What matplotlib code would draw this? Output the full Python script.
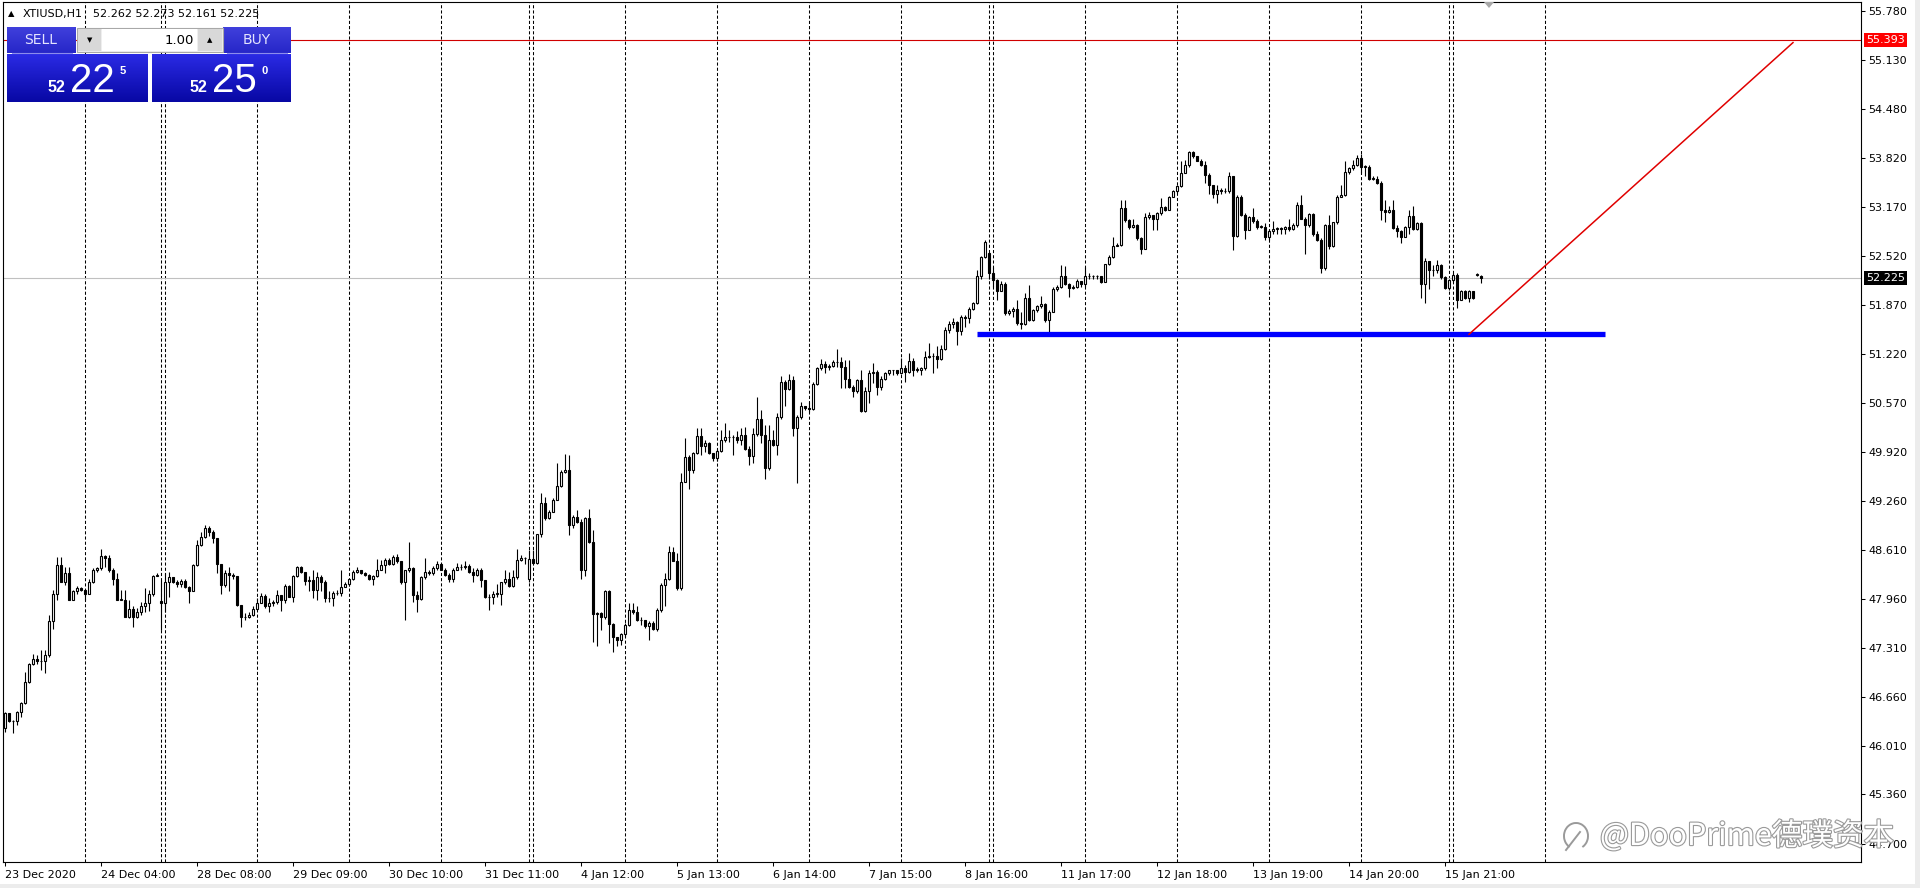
"""
MT4 style hourly candlestick chart of XTIUSD with the one-click trade panel.
"""

import numpy as np
import matplotlib
matplotlib.use("Agg")
import matplotlib.pyplot as plt
import matplotlib.transforms as mtransforms
from matplotlib.patches import Rectangle, Polygon, Arc
from matplotlib import patheffects as pe

# Hourly OHLC (bar 0 = 23 Dec 2020)
opens = [
    46.24, 46.44, 46.33, 46.33, 46.46, 46.58, 46.86, 47.09, 47.16, 47.13,
    47.13, 47.21, 47.67, 48.03, 48.41, 48.19, 48.31, 47.95, 48.06, 48.10,
    48.08, 48.03, 48.18, 48.35, 48.37, 48.53, 48.50, 48.35, 48.23, 47.95,
    47.95, 47.72, 47.83, 47.72, 47.78, 47.86, 47.91, 48.03, 48.27, 47.93,
    47.91, 48.19, 48.25, 48.19, 48.16, 48.20, 48.12, 48.07, 48.41, 48.68,
    48.79, 48.90, 48.85, 48.77, 48.43, 48.15, 48.30, 48.28, 48.26, 47.88,
    47.72, 47.72, 47.75, 47.83, 47.91, 48.00, 47.86, 47.91, 47.92, 48.01,
    47.94, 48.13, 47.99, 48.26, 48.38, 48.32, 48.20, 48.21, 48.08, 48.25,
    48.19, 47.97, 47.97, 48.04, 48.04, 48.12, 48.16, 48.22, 48.32, 48.35,
    48.31, 48.28, 48.22, 48.27, 48.35, 48.41, 48.48, 48.43, 48.52, 48.46,
    48.19, 48.34, 48.37, 48.01, 47.96, 48.25, 48.32, 48.30, 48.37, 48.43,
    48.35, 48.28, 48.23, 48.35, 48.39, 48.38, 48.40, 48.32, 48.28, 48.35,
    48.21, 47.98, 47.98, 48.03, 48.03, 48.18, 48.22, 48.13, 48.25, 48.48,
    48.51, 48.23, 48.49, 48.44, 48.82, 49.23, 49.03, 49.12, 49.28, 49.46,
    49.65, 49.68, 48.94, 49.05, 48.99, 48.35, 49.03, 48.72, 47.76, 47.77,
    47.72, 48.06, 47.63, 47.45, 47.41, 47.49, 47.61, 47.81, 47.78, 47.68,
    47.68, 47.60, 47.64, 47.56, 47.81, 48.15, 48.22, 48.58, 48.47, 48.10,
    49.52, 49.85, 49.67, 49.90, 50.13, 49.99, 50.03, 49.90, 49.83, 49.93,
    50.08, 50.11, 50.11, 50.12, 50.08, 50.14, 49.95, 49.86, 50.15, 50.35,
    50.14, 49.70, 50.07, 50.01, 50.38, 50.85, 50.75, 50.87, 50.24, 50.38,
    50.52, 50.50, 50.48, 50.82, 51.03, 51.09, 51.04, 51.06, 51.11, 51.11,
    51.04, 50.89, 50.78, 50.73, 50.87, 50.46, 50.72, 50.97, 50.98, 50.78,
    50.89, 50.96, 51.00, 51.00, 50.97, 51.03, 50.98, 51.13, 51.01, 51.01,
    51.03, 51.18, 51.19, 51.19, 51.15, 51.29, 51.54, 51.62, 51.64, 51.52,
    51.71, 51.70, 51.81, 51.89, 52.25, 52.51, 52.56, 52.30, 52.20, 52.05,
    52.15, 51.76, 51.79, 51.82, 51.63, 51.62, 51.96, 51.67, 51.80, 51.85,
    51.88, 51.67, 51.78, 52.08, 52.11, 52.25, 52.15, 52.09, 52.11, 52.19,
    52.15, 52.25, 52.25, 52.25, 52.26, 52.18, 52.41, 52.51, 52.66, 52.67,
    53.16, 53.00, 52.91, 52.93, 52.76, 52.62, 53.04, 53.07, 53.01, 53.09,
    53.17, 53.14, 53.30, 53.38, 53.45, 53.63, 53.73, 53.91, 53.85, 53.79,
    53.73, 53.60, 53.46, 53.35, 53.40, 53.39, 53.38, 53.58, 52.79, 53.31,
    53.07, 52.87, 53.04, 52.99, 52.91, 52.91, 52.78, 52.85, 52.88, 52.89,
    52.88, 52.91, 52.88, 52.94, 53.20, 53.02, 52.93, 53.08, 52.81, 52.74,
    52.36, 52.93, 52.65, 52.97, 53.31, 53.33, 53.64, 53.69, 53.73, 53.82,
    53.71, 53.71, 53.55, 53.55, 53.49, 53.13, 53.11, 53.14, 52.89, 52.85,
    52.78, 52.91, 53.05, 52.88, 52.96, 52.15, 52.45, 52.33, 52.33, 52.40,
    52.24, 52.10, 52.20, 52.27, 51.94, 52.05, 51.96, 52.06, 52.27, 52.262,
]
highs = [
    46.46, 46.44, 46.35, 46.47, 46.59, 46.99, 47.11, 47.23, 47.21, 47.28,
    47.28, 47.75, 48.08, 48.52, 48.52, 48.39, 48.39, 48.08, 48.13, 48.12,
    48.09, 48.23, 48.37, 48.38, 48.63, 48.54, 48.54, 48.37, 48.30, 48.08,
    48.08, 47.95, 47.86, 47.84, 47.92, 48.10, 48.08, 48.28, 48.30, 48.21,
    48.30, 48.32, 48.25, 48.21, 48.22, 48.22, 48.13, 48.43, 48.74, 48.85,
    48.94, 48.93, 48.88, 48.77, 48.43, 48.35, 48.39, 48.30, 48.27, 47.88,
    47.77, 47.78, 47.86, 47.97, 48.04, 48.03, 47.97, 47.95, 48.08, 48.01,
    48.16, 48.15, 48.28, 48.40, 48.40, 48.32, 48.26, 48.35, 48.32, 48.28,
    48.21, 48.06, 48.07, 48.08, 48.35, 48.18, 48.23, 48.35, 48.38, 48.35,
    48.32, 48.29, 48.28, 48.49, 48.48, 48.50, 48.51, 48.54, 48.56, 48.47,
    48.35, 48.72, 48.39, 48.06, 48.26, 48.51, 48.35, 48.40, 48.46, 48.44,
    48.37, 48.30, 48.37, 48.44, 48.43, 48.46, 48.42, 48.37, 48.37, 48.37,
    48.21, 48.03, 48.06, 48.16, 48.19, 48.35, 48.32, 48.34, 48.63, 48.54,
    48.52, 48.61, 48.61, 48.83, 49.37, 49.31, 49.14, 49.30, 49.77, 49.68,
    49.89, 49.87, 49.08, 49.14, 49.02, 49.05, 49.15, 48.88, 47.79, 47.79,
    48.08, 48.08, 47.64, 47.46, 47.51, 47.64, 47.90, 47.90, 47.86, 47.72,
    47.68, 47.66, 47.66, 47.84, 48.17, 48.30, 48.66, 48.65, 48.57, 49.63,
    50.10, 49.87, 49.92, 50.23, 50.23, 50.07, 50.05, 49.87, 49.96, 50.21,
    50.30, 50.21, 50.14, 50.19, 50.23, 50.25, 49.99, 50.23, 50.65, 50.47,
    50.27, 50.27, 50.21, 50.43, 50.92, 50.87, 50.95, 50.92, 50.41, 50.58,
    50.53, 50.58, 50.84, 51.05, 51.15, 51.13, 51.09, 51.14, 51.29, 51.18,
    51.14, 51.14, 50.81, 50.89, 51.00, 50.78, 51.00, 51.10, 51.00, 50.92,
    50.98, 51.01, 51.01, 51.00, 51.16, 51.07, 51.23, 51.16, 51.04, 51.05,
    51.26, 51.36, 51.23, 51.32, 51.34, 51.58, 51.66, 51.70, 51.66, 51.74,
    51.74, 51.84, 51.91, 52.34, 52.52, 52.73, 52.58, 52.38, 52.21, 52.19,
    52.17, 51.81, 51.84, 51.94, 51.78, 52.03, 52.14, 51.82, 51.87, 51.99,
    51.89, 51.80, 52.11, 52.14, 52.40, 52.39, 52.16, 52.13, 52.21, 52.18,
    52.38, 52.29, 52.27, 52.27, 52.26, 52.42, 52.53, 52.77, 52.69, 53.26,
    53.26, 53.02, 53.02, 52.95, 52.78, 53.09, 53.11, 53.07, 53.11, 53.29,
    53.19, 53.32, 53.40, 53.47, 53.79, 53.80, 53.92, 53.92, 53.84, 53.81,
    53.78, 53.62, 53.47, 53.47, 53.43, 53.42, 53.64, 53.58, 53.33, 53.33,
    53.10, 53.05, 53.16, 53.01, 52.93, 52.96, 52.88, 52.99, 52.91, 52.91,
    52.92, 53.01, 52.96, 53.24, 53.33, 53.04, 53.10, 53.09, 52.86, 52.76,
    52.95, 53.07, 52.98, 53.33, 53.47, 53.78, 53.71, 53.80, 53.86, 53.88,
    53.73, 53.73, 53.58, 53.58, 53.52, 53.27, 53.19, 53.27, 52.93, 52.87,
    52.92, 53.13, 53.18, 52.98, 52.97, 52.49, 52.46, 52.40, 52.47, 52.42,
    52.25, 52.22, 52.29, 52.29, 52.07, 52.07, 52.07, 52.06, 52.30, 52.273,
]
lows = [
    46.19, 46.32, 46.18, 46.28, 46.39, 46.56, 46.84, 47.08, 47.10, 47.02,
    46.97, 47.19, 47.56, 47.94, 48.18, 48.15, 47.94, 47.94, 48.03, 48.07,
    47.95, 48.03, 48.17, 48.32, 48.35, 48.39, 48.32, 48.15, 47.94, 47.94,
    47.72, 47.70, 47.59, 47.70, 47.75, 47.79, 47.80, 48.00, 48.26, 47.55,
    47.79, 47.99, 48.17, 48.12, 48.12, 48.10, 47.90, 48.06, 48.40, 48.66,
    48.77, 48.80, 48.70, 48.30, 48.03, 48.12, 48.06, 48.22, 47.87, 47.59,
    47.68, 47.70, 47.73, 47.82, 47.90, 47.84, 47.79, 47.86, 47.89, 47.80,
    47.90, 47.98, 47.92, 48.25, 48.31, 48.15, 48.06, 47.97, 47.95, 48.06,
    47.92, 47.92, 47.86, 48.01, 48.00, 48.12, 48.13, 48.21, 48.30, 48.29,
    48.26, 48.21, 48.15, 48.25, 48.34, 48.30, 48.41, 48.41, 48.44, 48.16,
    47.68, 48.32, 47.92, 47.78, 47.95, 48.23, 48.28, 48.28, 48.35, 48.34,
    48.27, 48.19, 48.19, 48.34, 48.35, 48.36, 48.31, 48.19, 48.26, 48.12,
    47.97, 47.81, 47.89, 47.99, 47.88, 48.16, 48.12, 48.12, 48.23, 48.47,
    48.42, 48.18, 48.42, 48.42, 48.79, 49.01, 49.02, 49.11, 49.27, 49.45,
    49.63, 48.81, 48.90, 48.97, 48.23, 48.26, 48.70, 47.39, 47.33, 47.55,
    47.69, 47.37, 47.25, 47.33, 47.35, 47.46, 47.60, 47.76, 47.66, 47.62,
    47.58, 47.42, 47.55, 47.54, 47.79, 47.86, 48.21, 48.46, 48.08, 48.08,
    49.52, 49.42, 49.64, 49.89, 49.87, 49.91, 49.89, 49.80, 49.79, 49.92,
    50.05, 50.05, 49.87, 50.03, 50.01, 49.94, 49.74, 49.77, 50.13, 50.03,
    49.56, 49.67, 49.99, 49.87, 50.36, 50.52, 50.74, 50.13, 49.50, 50.36,
    50.47, 50.45, 50.47, 50.81, 51.01, 50.97, 51.01, 51.04, 51.05, 50.77,
    50.76, 50.76, 50.65, 50.70, 50.45, 50.45, 50.57, 50.83, 50.67, 50.74,
    50.87, 50.94, 50.94, 50.94, 50.95, 50.84, 50.96, 50.92, 50.98, 50.94,
    51.01, 51.16, 50.96, 51.03, 51.14, 51.27, 51.50, 51.56, 51.34, 51.47,
    51.58, 51.63, 51.80, 51.88, 52.22, 52.50, 52.22, 52.11, 51.94, 52.08,
    51.74, 51.74, 51.71, 51.61, 51.55, 51.60, 51.66, 51.66, 51.78, 51.83,
    51.65, 51.51, 51.77, 52.06, 52.10, 52.14, 51.98, 52.08, 52.09, 52.11,
    52.11, 52.21, 52.21, 52.21, 52.16, 52.17, 52.40, 52.50, 52.65, 52.65,
    52.98, 52.88, 52.90, 52.73, 52.55, 52.61, 53.02, 52.87, 52.87, 53.07,
    53.12, 53.13, 53.32, 53.36, 53.44, 53.62, 53.71, 53.83, 53.78, 53.72,
    53.49, 53.35, 53.29, 53.22, 53.35, 53.36, 53.36, 52.60, 52.78, 53.05,
    52.75, 52.87, 52.96, 52.88, 52.89, 52.73, 52.73, 52.82, 52.81, 52.81,
    52.82, 52.86, 52.87, 52.91, 53.01, 52.55, 52.91, 52.79, 52.72, 52.30,
    52.34, 52.62, 52.64, 52.95, 53.30, 53.32, 53.61, 53.67, 53.72, 53.62,
    53.58, 53.53, 53.53, 53.48, 53.00, 52.98, 53.09, 52.88, 52.77, 52.70,
    52.77, 52.82, 52.87, 52.87, 51.96, 51.89, 52.08, 52.25, 52.30, 52.22,
    52.08, 52.07, 52.18, 51.83, 51.94, 51.95, 51.91, 51.95, 52.26, 52.161,
]
closes = [
    46.44, 46.33, 46.33, 46.46, 46.58, 46.86, 47.09, 47.16, 47.13, 47.13,
    47.21, 47.67, 48.03, 48.41, 48.19, 48.31, 47.95, 48.06, 48.10, 48.08,
    48.03, 48.18, 48.35, 48.37, 48.53, 48.50, 48.35, 48.23, 47.95, 47.95,
    47.72, 47.83, 47.72, 47.78, 47.86, 47.91, 48.03, 48.27, 48.28, 47.91,
    48.19, 48.25, 48.19, 48.16, 48.20, 48.12, 48.07, 48.41, 48.68, 48.79,
    48.90, 48.85, 48.77, 48.43, 48.15, 48.30, 48.28, 48.26, 47.88, 47.72,
    47.72, 47.75, 47.83, 47.91, 48.00, 47.86, 47.91, 47.92, 48.01, 47.94,
    48.13, 47.99, 48.26, 48.38, 48.32, 48.20, 48.21, 48.08, 48.25, 48.19,
    47.97, 47.97, 48.04, 48.04, 48.12, 48.16, 48.22, 48.32, 48.35, 48.31,
    48.28, 48.22, 48.27, 48.35, 48.41, 48.48, 48.43, 48.52, 48.46, 48.19,
    48.34, 48.37, 48.01, 47.96, 48.25, 48.32, 48.30, 48.37, 48.43, 48.35,
    48.28, 48.23, 48.35, 48.39, 48.38, 48.40, 48.32, 48.28, 48.35, 48.21,
    47.98, 47.98, 48.03, 48.03, 48.18, 48.22, 48.13, 48.25, 48.48, 48.51,
    48.50, 48.49, 48.44, 48.82, 49.23, 49.03, 49.12, 49.28, 49.46, 49.65,
    49.68, 48.94, 49.05, 48.99, 48.35, 49.03, 48.72, 47.76, 47.77, 47.72,
    48.06, 47.63, 47.45, 47.41, 47.49, 47.61, 47.81, 47.78, 47.68, 47.68,
    47.60, 47.64, 47.56, 47.81, 48.15, 48.22, 48.58, 48.47, 48.10, 49.52,
    49.85, 49.67, 49.90, 50.13, 49.99, 50.03, 49.90, 49.83, 49.93, 50.08,
    50.11, 50.11, 50.12, 50.08, 50.14, 49.95, 49.86, 50.15, 50.35, 50.14,
    49.70, 50.07, 50.01, 50.38, 50.85, 50.75, 50.87, 50.24, 50.38, 50.52,
    50.50, 50.48, 50.82, 51.03, 51.09, 51.04, 51.06, 51.11, 51.11, 51.04,
    50.89, 50.78, 50.73, 50.87, 50.46, 50.72, 50.97, 50.98, 50.78, 50.89,
    50.96, 51.00, 51.00, 50.97, 51.03, 50.98, 51.13, 51.01, 51.01, 51.03,
    51.18, 51.19, 51.19, 51.15, 51.29, 51.54, 51.62, 51.64, 51.52, 51.71,
    51.70, 51.81, 51.89, 52.25, 52.51, 52.71, 52.30, 52.20, 52.05, 52.15,
    51.76, 51.79, 51.82, 51.63, 51.62, 51.96, 51.67, 51.80, 51.85, 51.88,
    51.67, 51.78, 52.08, 52.11, 52.25, 52.15, 52.09, 52.11, 52.19, 52.15,
    52.25, 52.25, 52.25, 52.26, 52.18, 52.41, 52.51, 52.66, 52.67, 53.16,
    53.00, 52.91, 52.93, 52.76, 52.62, 53.04, 53.07, 53.01, 53.09, 53.17,
    53.14, 53.30, 53.38, 53.45, 53.63, 53.73, 53.91, 53.85, 53.79, 53.73,
    53.60, 53.46, 53.35, 53.40, 53.39, 53.38, 53.58, 52.79, 53.31, 53.07,
    52.87, 53.04, 52.99, 52.91, 52.91, 52.78, 52.85, 52.88, 52.89, 52.88,
    52.91, 52.88, 52.94, 53.20, 53.02, 52.93, 53.08, 52.81, 52.74, 52.36,
    52.93, 52.65, 52.97, 53.31, 53.33, 53.64, 53.69, 53.73, 53.82, 53.71,
    53.71, 53.55, 53.55, 53.49, 53.13, 53.11, 53.14, 52.89, 52.85, 52.78,
    52.91, 53.05, 52.88, 52.96, 52.15, 52.45, 52.33, 52.33, 52.40, 52.24,
    52.10, 52.20, 52.27, 51.94, 52.05, 51.96, 52.06, 51.96, 52.28, 52.225,
]

# day separators (bar index) and time labels every 24 bars
day_starts = [20, 39, 40, 63, 86, 109, 131, 132, 155, 178, 201, 224,
              246, 247, 270, 293, 316, 339, 361, 362, 385]
time_ticks = [0, 24, 48, 72, 96, 120, 144, 168, 192, 216, 240, 264, 288, 312, 336, 360]
time_labels = ["23 Dec 2020", "24 Dec 04:00", "28 Dec 08:00", "29 Dec 09:00",
               "30 Dec 10:00", "31 Dec 11:00", "4 Jan 12:00", "5 Jan 13:00",
               "6 Jan 14:00", "7 Jan 15:00", "8 Jan 16:00", "11 Jan 17:00",
               "12 Jan 18:00", "13 Jan 19:00", "14 Jan 20:00", "15 Jan 21:00"]
price_ticks = [55.780, 55.130, 54.480, 53.820, 53.170, 52.520, 51.870, 51.220, 50.570,
               49.920, 49.260, 48.610, 47.960, 47.310, 46.660, 46.010, 45.360, 44.700]

bid = 52.225
alert_level = 55.393
support_level = 51.48
support_span = [243, 400]
trend_x = [366, 447]
trend_y = [51.48, 55.36]

W, H = 1920, 888
fig = plt.figure(figsize=(W / 100, H / 100), dpi=100)
fig.patch.set_facecolor("white")

# chart box in pixels
L_PX, R_PX, T_PX, B_PX = 2.5, 1861, 2, 862
ax = fig.add_axes([L_PX / W, 1 - B_PX / H, (R_PX - L_PX) / W, (B_PX - T_PX) / H])
ax.set_xlim(-0.625, 464)
ax.set_ylim(44.461, 55.900)

# day separators
for d in day_starts:
    ax.axvline(d, color="black", lw=0.75, linestyle=(0, (3, 2)), zorder=1)

# candles
x = np.arange(len(closes))
o = np.array(opens)
c = np.array(closes)
hi = np.array(highs)
lo = np.array(lows)
up = c >= o
body_lo = np.minimum(o, c)
body_hi = np.maximum(o, c)
ax.vlines(x, np.minimum(lo, body_lo), np.maximum(hi, body_hi), color="black", lw=0.8, zorder=2)
height = np.maximum(body_hi - body_lo, 0.004)
ax.bar(x[up], height[up], bottom=body_lo[up], width=0.55, color="white",
       edgecolor="black", linewidth=0.8, zorder=3)
ax.bar(x[~up], height[~up], bottom=body_lo[~up], width=0.55, color="black",
       edgecolor="black", linewidth=0.8, zorder=3)

# horizontal levels and trend line
ax.axhline(bid, color="#C0C0C0", lw=0.8, zorder=1.5)
ax.axhline(alert_level, color="#D00000", lw=0.8, zorder=1.5)
ax.plot(support_span, [support_level, support_level], color="#0000FF", lw=3.8,
        solid_capstyle="butt", zorder=4)
ax.plot(trend_x, trend_y, color="#E00000", lw=1.1, zorder=4)

# axes styling
for s in ax.spines.values():
    s.set_linewidth(0.8)
    s.set_color("black")
ax.set_xticks(time_ticks)
ax.set_xticklabels(time_labels)
for t in ax.get_xticklabels():
    t.set_ha("left")
ax.yaxis.tick_right()
ax.set_yticks(price_ticks)
ax.set_yticklabels([f"{p:.3f}" for p in price_ticks])
ax.tick_params(axis="x", direction="out", length=3, width=0.75, labelsize=8, pad=3)
ax.tick_params(axis="y", direction="out", length=3, width=0.75, labelsize=8, pad=2)

# price boxes on the right scale
blend = mtransforms.blended_transform_factory(ax.transAxes, ax.transData)
xbox = (1866 - L_PX) / (R_PX - L_PX)
ax.text(xbox, alert_level, f"{alert_level:.3f}", transform=blend, ha="left", va="center",
        fontsize=8, color="white", clip_on=False, zorder=10,
        bbox=dict(boxstyle="square,pad=0.18", fc="#FF0000", ec="none"))
ax.text(xbox, bid, f"{bid:.3f}", transform=blend, ha="left", va="center",
        fontsize=8, color="white", clip_on=False, zorder=10,
        bbox=dict(boxstyle="square,pad=0.18", fc="black", ec="none"))

# overlay in pixel coordinates for the panel and watermark
ov = fig.add_axes([0, 0, 1, 1], zorder=5)
ov.set_facecolor("none")
ov.axis("off")


def grad_rect(x0, y0, x1, y1, top, bottom):
    c0 = np.array(matplotlib.colors.to_rgb(top))
    c1 = np.array(matplotlib.colors.to_rgb(bottom))
    t = np.linspace(0, 1, 32)[:, None, None]
    img = c0 * (1 - t) + c1 * t
    ov.imshow(img, extent=(x0, x1, y1, y0), aspect="auto", interpolation="bilinear", zorder=1)


# header
ov.text(8, 14, "\u25b2", fontsize=6, va="center", ha="left")
ov.text(23, 14, "XTIUSD,H1", fontsize=8, va="center", ha="left")
ov.text(93, 14, "52.262 52.273 52.161 52.225", fontsize=8, va="center", ha="left")

# one-click trading panel
grad_rect(7, 27, 76, 53, "#4040DC", "#2626C8")
grad_rect(223, 27, 291, 53, "#4040DC", "#2626C8")
grad_rect(7, 54, 148, 102, "#2A2AE4", "#0808A4")
grad_rect(152, 54, 291, 102, "#2A2AE4", "#0808A4")
ov.plot([12, 72], [53.5, 53.5], color="#8C8CEC", lw=0.8, zorder=2)
ov.plot([227, 287], [53.5, 53.5], color="#8C8CEC", lw=0.8, zorder=2)
ov.add_patch(Rectangle((77, 28), 146, 24, fc="#EEEEEE", ec="#A8A8A8", lw=0.8, zorder=2))
ov.add_patch(Rectangle((78, 29), 23, 22, fc="#D8D8D8", ec="none", zorder=3))
ov.add_patch(Rectangle((198, 29), 24, 22, fc="#D8D8D8", ec="none", zorder=3))
ov.add_patch(Rectangle((102, 29), 95, 22, fc="white", ec="none", zorder=3))
ov.text(90, 40, "\u25bc", fontsize=5, ha="center", va="center", zorder=4)
ov.text(210, 40, "\u25b2", fontsize=5, ha="center", va="center", zorder=4)
ov.text(194, 40, "1.00", fontsize=9.5, ha="right", va="center", zorder=4)
ov.text(41, 40, "SELL", fontsize=10, ha="center", va="center", color="#E4E4FF", zorder=4)
ov.text(257, 40, "BUY", fontsize=10, ha="center", va="center", color="#E4E4FF", zorder=4)

num_font = "Liberation Sans"
for bx, big, sup in [(48, "22", "5"), (190, "25", "0")]:
    ov.text(bx, 92, "52", fontsize=11.5, fontweight="bold", color="white",
            family=num_font, ha="left", va="baseline", zorder=4)
    ov.text(bx + 22, 92, big, fontsize=29, color="white",
            family=num_font, ha="left", va="baseline", zorder=4)
    ov.text(bx + 72, 74, sup, fontsize=8, fontweight="bold", color="white",
            family=num_font, ha="left", va="baseline", zorder=4)

# chart shift marker
ov.add_patch(Polygon([(1484, 2), (1494, 2), (1489, 8)], closed=True, fc="#A8A8A8", ec="none"))

# window frame strips
ov.add_patch(Rectangle((0, 884), W, 4, fc="#ECECEC", ec="none"))
ov.add_patch(Rectangle((1915, 0), 5, H, fc="#ECECEC", ec="none"))

# watermark
halo = [pe.withStroke(linewidth=1.6, foreground="#9A9A9A")]
ov.text(1600, 836, "@DooPrime德璞资本", fontsize=22, color="white",
        family=["Noto Sans CJK SC", "DejaVu Sans"], ha="left", va="center",
        path_effects=halo, zorder=6)
ov.add_patch(Arc((1576, 836), 24, 26, theta1=120, theta2=420, color="#9A9A9A", lw=1.4, zorder=6))
ov.plot([1566, 1580], [850, 832], color="#9A9A9A", lw=1.4, zorder=6)

ov.set_xlim(0, W)
ov.set_ylim(H, 0)

fig.savefig("out.png", dpi=100, facecolor="white")
